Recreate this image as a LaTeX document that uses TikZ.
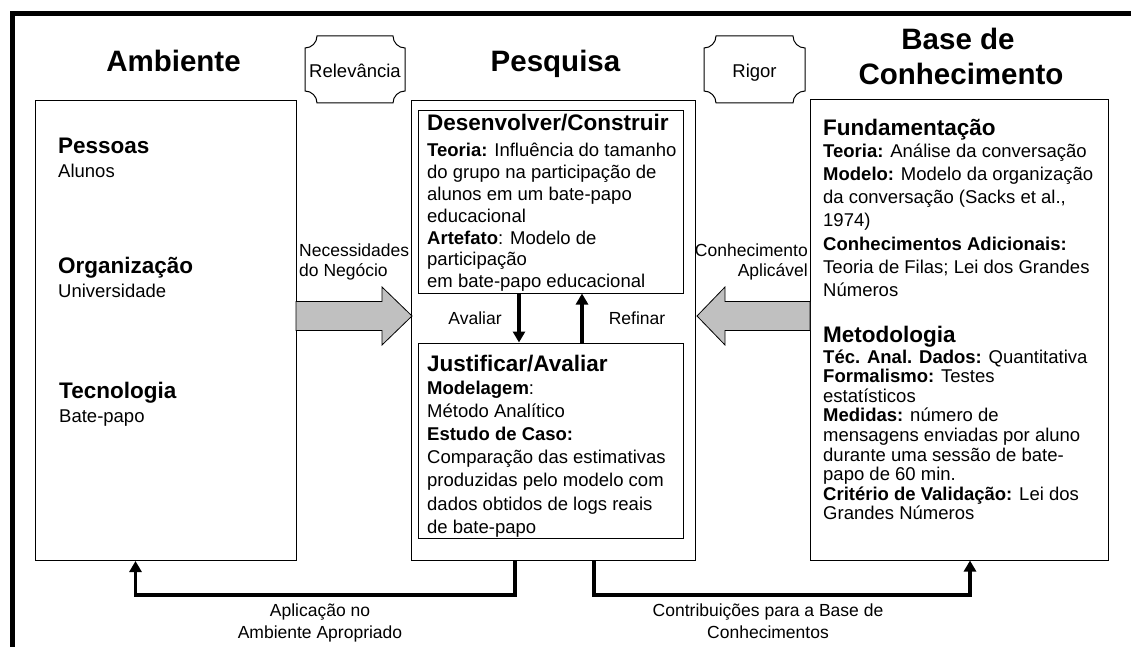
\documentclass[tikz,border=0pt]{standalone}
\usepackage{fontspec}
\setmainfont{Liberation Sans}
\usetikzlibrary{arrows.meta}
\definecolor{garrowc}{RGB}{192,192,192}
\newcommand\mypar[4]{\parbox[t]{#1}{\fontsize{#2}{#3}\selectfont\lineskiplimit=-200pt\relax #4}}
\newcommand\plaque[4]{%
  \draw[plq] (#1+12,#2) -- (#3-12,#2) .. controls (#3-12,#2+6.6) and (#3-6.6,#2+12) .. (#3,#2+12)
   -- (#3,#4-12) .. controls (#3-6.6,#4-12) and (#3-12,#4-6.6) .. (#3-12,#4)
   -- (#1+12,#4) .. controls (#1+12,#4-6.6) and (#1+6.6,#4-12) .. (#1,#4-12)
   -- (#1,#2+12) .. controls (#1+6.6,#2+12) and (#1+12,#2+6.6) .. (#1+12,#2) -- cycle;}
\tikzset{
  box/.style={draw, line width=1pt, inner sep=0pt},
  txt/.style={anchor=base west, inner sep=0pt, font=\fontsize{18.5}{19}\selectfont},
  ttl/.style={anchor=base, inner sep=0pt, font=\fontsize{29.5}{32}\selectfont\bfseries},
  hd/.style={anchor=base west, inner sep=0pt, font=\fontsize{22.5}{25}\selectfont\bfseries},
  lbl/.style={inner sep=0pt, font=\fontsize{17.5}{20}\selectfont},
  plbl/.style={inner sep=0pt, anchor=base, font=\fontsize{18.5}{20}\selectfont},
  conn/.style={line width=3.5pt, line join=miter, -{Triangle[length=11pt,width=12pt]}},
  garrow/.style={draw, line width=0.8pt, fill=garrowc},
  plq/.style={draw, line width=1pt},
}
\begin{document}
\begin{tikzpicture}[x=1pt,y=-1pt]
\useasboundingbox (0,0) rectangle (1131,647);
% outer frame
\draw[line width=5pt, line join=miter] (12,647) -- (12,14) -- (1131,14);

% titles
\node[ttl] (tamb) at (173.5,72) {Ambiente};
\node[ttl] (tpes) at (555.5,72) {Pesquisa};
\node[ttl] (tbas1) at (958,50) {Base de};
\node[ttl] (tbas2) at (961,85) {Conhecimento};

% plaques
\plaque{305}{36}{405}{103}
\node[plbl] (rel) at (355,77.5) {Relevância};
\plaque{704}{36}{805}{103}
\node[plbl] (rig) at (754.5,77.5) {Rigor};

% boxes
\node[box, minimum width=261pt, minimum height=460pt] (amb) at (165.5,330.5) {};
\node[box, minimum width=284pt, minimum height=459pt] (pes) at (553,330.5) {};
\node[box, minimum width=265pt, minimum height=182pt] (dev) at (550.5,202) {};
\node[box, minimum width=265pt, minimum height=195pt] (jus) at (550.5,440.5) {};
\node[box, minimum width=298pt, minimum height=460pt] (bas) at (959,330) {};

% ambiente contents
\node[hd] (pess) at (58,154) {Pessoas};
\node[txt] (alun) at (58,178) {Alunos};
\node[hd] (org) at (58,273) {Organização};
\node[txt] (univ) at (58,297) {Universidade};
\node[hd] (tec) at (59,398) {Tecnologia};
\node[txt] (bpap) at (59,422) {Bate-papo};

% pesquisa contents
\node[hd] (devh) at (427,131) {Desenvolver/Construir};
\node[txt] (devb) at (427,157) {\mypar{255pt}{18.5}{21.8}{\raggedright
  \textbf{Teoria:} Influência do tamanho\\
  do grupo na participação de\\
  alunos em um bate-papo\\
  educacional\\
  \textbf{Artefato}: Modelo de\\
  participação\\
  em bate-papo educacional}};
\node[hd] (jush) at (427,371) {Justificar/Avaliar};
\node[txt] (jusb) at (427,394) {\mypar{255pt}{18.5}{23.2}{\raggedright
  \textbf{Modelagem}:\\
  Método Analítico\\
  \textbf{Estudo de Caso:}\\
  Comparação das estimativas\\
  produzidas pelo modelo com\\
  dados obtidos de logs reais\\
  de bate-papo}};

% base contents
\node[hd] (funh) at (823,136) {Fundamentação};
\node[txt] (funb) at (823,158) {\mypar{285pt}{18.5}{23}{\raggedright
  \textbf{Teoria:} Análise da conversação\\
  \textbf{Modelo:} Modelo da organização\\
  da conversação (Sacks et al.,\\
  1974)\\
  \textbf{Conhecimentos Adicionais:}\\
  Teoria de Filas; Lei dos Grandes\\
  Números}};
\node[hd] (meth) at (823,342) {Metodologia};
\node[txt] (metb) at (823,363) {\mypar{285pt}{18.5}{19.6}{\raggedright
  \textbf{Téc. Anal. Dados:} Quantitativa\\
  \textbf{Formalismo:} Testes\\
  estatísticos\\
  \textbf{Medidas:} número de\\
  mensagens enviadas por aluno\\
  durante uma sessão de bate-\\
  papo de 60 min.\\
  \textbf{Critério de Validação:} Lei dos\\
  Grandes Números}};

% gray arrows
\draw[garrow] (296,301.5) -- (382,301.5) -- (382,287) -- (412,316) -- (382,345) -- (382,330.5) -- (296,330.5) -- cycle;
\draw[garrow] (810,301.5) -- (725,301.5) -- (725,287) -- (697,316) -- (725,345) -- (725,330.5) -- (810,330.5) -- cycle;
\node[lbl, anchor=base west] (nec) at (299,256) {\mypar{120pt}{17.5}{20}{\raggedright Necessidades\\ do Negócio}};
\node[lbl, anchor=base east] (con) at (808,256) {\mypar{120pt}{17.5}{20}{\raggedleft Conhecimento\\ Aplicável}};

% evaluate / refine
\coordinate (xa) at (519,0);
\coordinate (xr) at (582,0);
\draw[conn] (dev.south -| xa) -- (jus.north -| xa);
\draw[conn] (jus.north -| xr) -- (dev.south -| xr);
\node[lbl, anchor=base] (aval) at (475,324) {Avaliar};
\node[lbl, anchor=base] (refi) at (637,324) {Refinar};

% bottom connectors
\coordinate (b1) at (515,595);
\coordinate (b2) at (135.5,595);
\coordinate (b3) at (594,595);
\coordinate (b4) at (970,595);
\draw[conn] (pes.south -| b1) -- (b1) -- (b2) -- (amb.south -| b2);
\draw[conn] (pes.south -| b3) -- (b3) -- (b4) -- (bas.south -| b4);
\node[lbl, anchor=base] (apl) at (320,616) {\mypar{250pt}{17.5}{22}{\centering Aplicação no\\ Ambiente Apropriado}};
\node[lbl, anchor=base] (ctb) at (768,616) {\mypar{300pt}{17.5}{22}{\centering Contribuições para a Base de\\ Conhecimentos}};
\end{tikzpicture}
\end{document}
